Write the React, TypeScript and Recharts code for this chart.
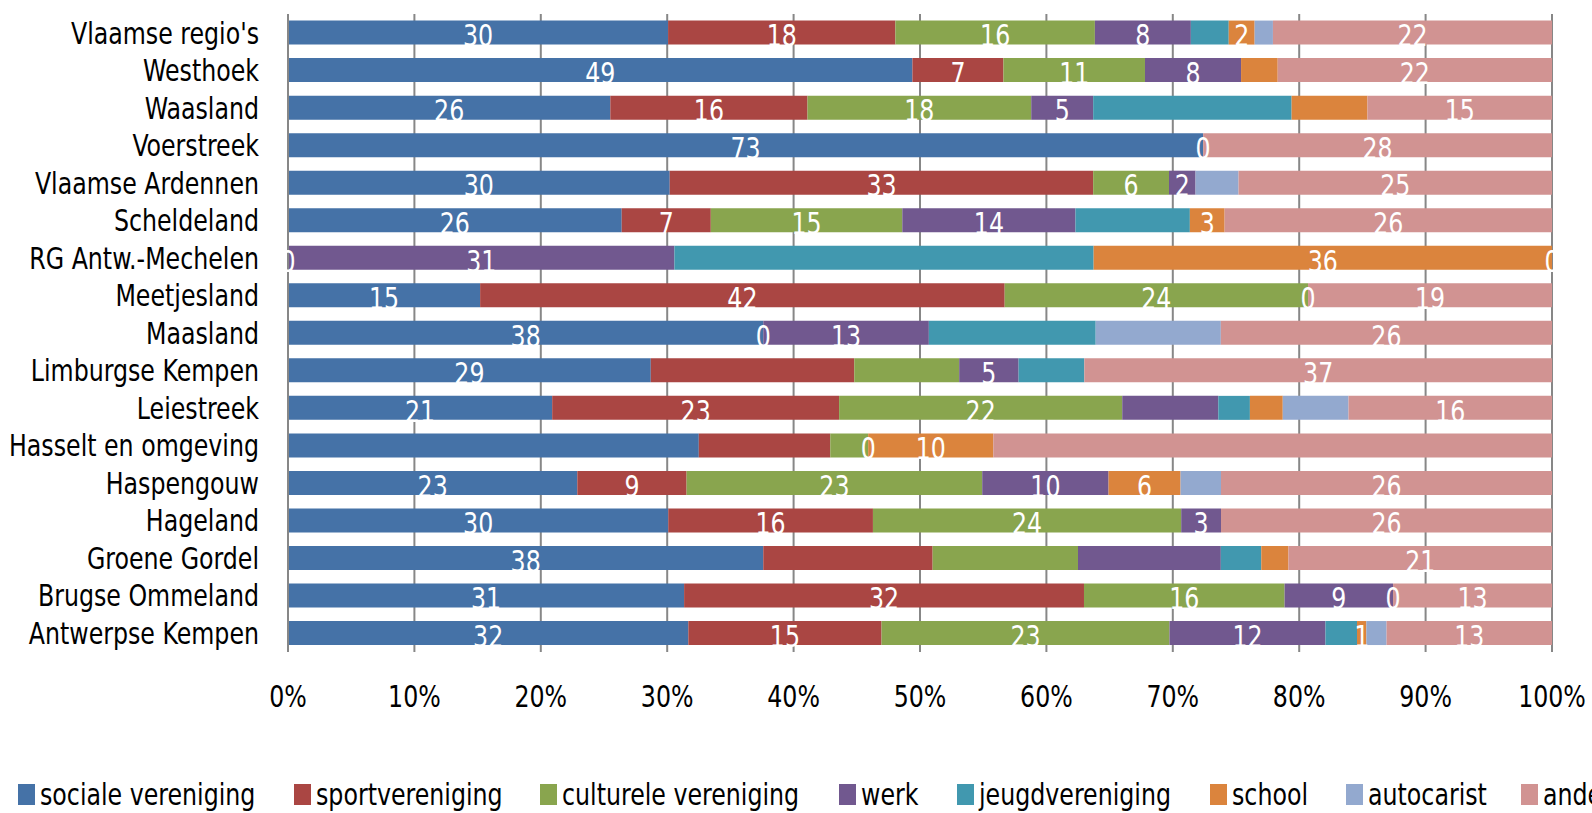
import { BarChart, Bar, XAxis, YAxis, CartesianGrid, Legend, LabelList } from 'recharts';

const FONT = "'DejaVu Sans Condensed', 'DejaVu Sans', sans-serif";
const SQUEEZE = 0.85;

const REGIONS = [
  "Vlaamse regio's", 'Westhoek', 'Waasland', 'Voerstreek', 'Vlaamse Ardennen', 'Scheldeland',
  'RG Antw.-Mechelen', 'Meetjesland', 'Maasland', 'Limburgse Kempen', 'Leiestreek',
  'Hasselt en omgeving', 'Haspengouw', 'Hageland', 'Groene Gordel', 'Brugse Ommeland', 'Antwerpse Kempen',
];

// bar lengths (share in %)
const SOCIALE = [30.1, 49.4, 25.5, 72.4, 30.2, 26.4, 0, 15.2, 37.6, 28.7, 20.9, 32.5, 22.9, 30.1, 37.6, 31.4, 31.7];
const SPORT = [18.0, 7.2, 15.6, 0, 33.5, 7.05, 0, 41.5, 0, 16.1, 22.7, 10.4, 8.65, 16.2, 13.4, 31.7, 15.3];
const CULTUREEL = [15.8, 11.2, 17.7, 0, 6.0, 15.15, 0, 24.0, 0, 8.3, 22.4, 3.0, 23.4, 24.4, 11.5, 15.9, 22.8];
const WERK = [7.6, 7.6, 4.9, 0, 2.1, 13.7, 30.6, 0, 13.1, 4.7, 7.6, 0, 10.0, 3.15, 11.3, 8.6, 12.35];
const JEUGD = [3.0, 0, 15.7, 0, 0, 9.05, 33.2, 0, 13.2, 5.2, 2.5, 0, 0, 0, 3.2, 0, 2.5];
const SCHOOL = [2.05, 2.9, 6.0, 0, 0, 2.75, 36.3, 0, 0, 0, 2.6, 9.9, 5.7, 0, 2.15, 0, 0.74];
const AUTOCARIST = [1.45, 0, 0, 0, 3.4, 0, 0, 0, 9.9, 0, 5.2, 0, 3.2, 0, 0, 0, 1.6];
const ANDERE = [22.1, 21.7, 14.6, 27.6, 24.8, 25.9, 0, 19.3, 26.2, 37.0, 16.1, 44.2, 26.2, 26.2, 20.85, 12.6, 13.1];

// data labels as shown (null = no label on that segment)
const L_SOCIALE = [30, 49, 26, 73, 30, 26, 0, 15, 38, 29, 21, null, 23, 30, 38, 31, 32];
const L_SPORT = [18, 7, 16, 0, 33, 7, null, 42, 0, null, 23, null, 9, 16, null, 32, 15];
const L_CULTUREEL = [16, 11, 18, null, 6, 15, null, 24, null, null, 22, null, 23, 24, null, 16, 23];
const L_WERK = [8, 8, 5, null, 2, 14, 31, 0, 13, 5, null, 0, 10, 3, null, 9, 12];
const L_JEUGD = [null, null, null, null, null, null, null, null, null, null, null, null, null, null, null, 0, null];
const L_SCHOOL = [2, null, null, null, null, 3, 36, null, null, null, null, 10, 6, null, null, null, 1];
const L_AUTOCARIST = REGIONS.map(() => null);
const L_ANDERE = [22, 22, 15, 28, 25, 26, 0, 19, 26, 37, 16, null, 26, 26, 21, 13, 13];

const TICKS = [0, 0.1, 0.2, 0.3, 0.4, 0.5, 0.6, 0.7, 0.8, 0.9, 1];

const SERIES = [
  { key: 'sociale', name: 'sociale vereniging', values: SOCIALE, labels: L_SOCIALE, color: '#4572A7' },
  { key: 'sport', name: 'sportvereniging', values: SPORT, labels: L_SPORT, color: '#AA4643' },
  { key: 'cultureel', name: 'culturele vereniging', values: CULTUREEL, labels: L_CULTUREEL, color: '#89A54E' },
  { key: 'werk', name: 'werk', values: WERK, labels: L_WERK, color: '#71588F' },
  { key: 'jeugd', name: 'jeugdvereniging', values: JEUGD, labels: L_JEUGD, color: '#4198AF' },
  { key: 'school', name: 'school', values: SCHOOL, labels: L_SCHOOL, color: '#DB843D' },
  { key: 'autocarist', name: 'autocarist', values: AUTOCARIST, labels: L_AUTOCARIST, color: '#93A9CF' },
  { key: 'andere', name: 'andere', values: ANDERE, labels: L_ANDERE, color: '#D19392' },
];

// legend item left edges, px
const LEGEND_X = [18, 294, 540, 839, 957, 1210, 1346, 1521];

const data = REGIONS.map((region, i) => {
  const row: Record<string, string | number> = { region };
  SERIES.forEach((s) => (row[s.key] = s.values[i]));
  return row;
});

// zero-width segments are not drawn, so their "0" labels hang on a neighbour's edge
const edgeZeros = (row: number, si: number) => {
  const out: ('start' | 'end')[] = [];
  SERIES.forEach((s, j) => {
    if (s.values[row] !== 0 || s.labels[row] !== 0) return;
    let prev = -1;
    for (let k = j - 1; k >= 0; k--) if (SERIES[k].values[row] > 0) { prev = k; break; }
    if (prev >= 0) {
      if (prev === si) out.push('end');
      return;
    }
    for (let k = j + 1; k < SERIES.length; k++) if (SERIES[k].values[row] > 0) {
      if (k === si) out.push('start');
      break;
    }
  });
  return out;
};

const Txt = ({ x, y, anchor, fill, children }: any) => (
  <g transform={`translate(${x},${y})`}>
    <text transform={`scale(${SQUEEZE},1)`} textAnchor={anchor} dominantBaseline="central" fill={fill} fontSize={31} fontFamily={FONT}>
      {children}
    </text>
  </g>
);

const makeLabel = (si: number) => (props: any) => {
  const vb = props.viewBox ?? props;
  const row = REGIONS.indexOf(props.value);
  if (row < 0) return null;
  const v = SERIES[si].labels[row];
  const cy = vb.y + vb.height / 2 + 3;
  return (
    <g>
      {v !== null && v !== undefined && (
        <Txt x={vb.x + vb.width / 2} y={cy} anchor="middle" fill="#fff">{v}</Txt>
      )}
      {edgeZeros(row, si).map((side, k) => (
        <Txt key={k} x={side === 'end' ? vb.x + vb.width : vb.x} y={cy} anchor="middle" fill="#fff">0</Txt>
      ))}
    </g>
  );
};

const YTick = ({ x, y, payload }: any) => (
  <Txt x={x} y={y} anchor="end" fill="#000">{payload.value}</Txt>
);

const XTick = ({ x, y, payload }: any) => (
  <Txt x={x} y={y + 14} anchor="middle" fill="#000">{`${Math.round(payload.value * 100)}%`}</Txt>
);

const renderLegend = () => (
  <div style={{ position: 'relative', width: 1592, height: 60, overflow: 'hidden' }}>
    {SERIES.map((s, i) => (
      <div key={s.key} style={{ position: 'absolute', left: LEGEND_X[i], top: 23, height: 36, display: 'flex', alignItems: 'center', whiteSpace: 'nowrap' }}>
        <span style={{ display: 'inline-block', width: 17, height: 21, background: s.color, marginRight: 5 }} />
        <span style={{ display: 'inline-block', color: '#000', fontFamily: FONT, fontSize: 31, lineHeight: '36px', transform: `scaleX(${SQUEEZE})`, transformOrigin: 'left center' }}>
          {s.name}
        </span>
      </div>
    ))}
  </div>
);

export default function App() {
  return (
    <div style={{ width: 1592, height: 813, background: '#fff', overflow: 'hidden' }}>
      <style>{'body{margin:0}'}</style>
      <BarChart
        width={1592}
        height={813}
        data={data}
        layout="vertical"
        stackOffset="expand"
        barCategoryGap="17.5%"
        margin={{ top: 14, right: 40, left: 0, bottom: 0 }}
      >
        <CartesianGrid horizontal={false} stroke="#878787" strokeWidth={2} />
        <XAxis
          type="number"
          domain={[0, 1]}
          ticks={TICKS}
          axisLine={false}
          tickLine={false}
          tickMargin={24}
          height={101}
          tick={<XTick />}
        />
        <YAxis
          type="category"
          dataKey="region"
          width={288}
          interval={0}
          axisLine={{ stroke: '#878787', strokeWidth: 2 }}
          tickLine={false}
          tickMargin={23}
          tick={<YTick />}
        />
        <Legend verticalAlign="bottom" height={60} content={renderLegend} wrapperStyle={{ left: 0, width: 1592 }} />
        {SERIES.map((s, si) => (
          <Bar key={s.key} dataKey={s.key} name={s.name} stackId="a" fill={s.color} isAnimationActive={false}>
            <LabelList dataKey="region" content={makeLabel(si)} />
          </Bar>
        ))}
      </BarChart>
    </div>
  );
}
